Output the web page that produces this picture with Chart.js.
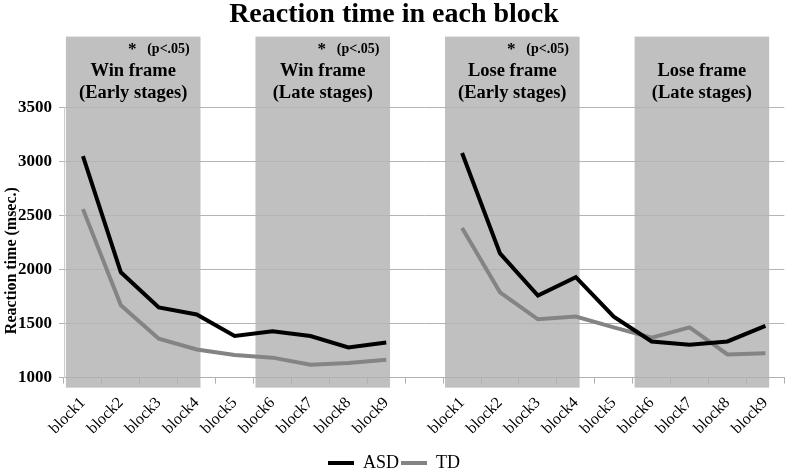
<!DOCTYPE html>
<html>
<head>
<meta charset="utf-8">
<script src="https://cdn.jsdelivr.net/npm/chart.js@4.4.1/dist/chart.umd.min.js"></script>
<style>
  body { margin: 0; background: #fff; }
  #caja { width: 789px; height: 471px; }
</style>
</head>
<body>
<div id="caja"><canvas id="grafica"></canvas></div>
<script>
// Datos
const bloques = ["block1", "block2", "block3", "block4", "block5", "block6", "block7", "block8", "block9"];
const etiquetas = [...bloques, "", ...bloques];

const asdWin = [3050, 1975, 1650, 1585, 1385, 1430, 1385, 1280, 1325];
const asdLose = [3080, 2150, 1760, 1930, 1565, 1335, 1305, 1335, 1480];
const tdWin = [2560, 1670, 1360, 1260, 1210, 1185, 1120, 1135, 1165];
const tdLose = [2385, 1790, 1540, 1565, 1465, 1370, 1465, 1215, 1225];

const ticksY = [1000, 1500, 2000, 2500, 3000, 3500];

const tituloY = "Reaction time (msec.)";

// Paneles sombreados (indices de categoria)
const rangos = [[0, 3], [5, 8], [10, 13], [15, 18]];
const panelTitulo = ["Win frame", "Win frame", "Lose frame", "Lose frame"];
const panelSub = ["(Early stages)", "(Late stages)", "(Early stages)", "(Late stages)"];
const panelSignif = [true, true, true, false];

const serif = "'Liberation Serif', 'Times New Roman', serif";

const paneles = {
  id: "paneles",
  beforeDraw(chart) {
    const { ctx, chartArea, scales: { x } } = chart;
    const w = x.getPixelForValue(1) - x.getPixelForValue(0);
    const top = chartArea.top - 71;
    const bottom = chartArea.bottom + 10;
    ctx.save();
    ctx.fillStyle = "#c0c0c0";
    rangos.forEach(([a, b]) => {
      const left = x.getPixelForValue(a) - 0.45 * w;
      const right = x.getPixelForValue(b) + 0.1 * w;
      ctx.fillRect(left, top, right - left, bottom - top);
    });
    ctx.restore();
  },
  afterDraw(chart) {
    const { ctx, chartArea, scales: { x } } = chart;
    const w = x.getPixelForValue(1) - x.getPixelForValue(0);
    ctx.save();
    ctx.fillStyle = "#000";
    ctx.textBaseline = "middle";
    rangos.forEach(([a, b], i) => {
      const left = x.getPixelForValue(a) - 0.45 * w;
      const right = x.getPixelForValue(b) + 0.1 * w;
      const cx = (left + right) / 2;
      ctx.textAlign = "center";
      ctx.font = "bold 18.5px " + serif;
      ctx.fillText(panelTitulo[i], cx, chartArea.top - 36);
      ctx.fillText(panelSub[i], cx, chartArea.top - 14);
      if (panelSignif[i]) {
        ctx.font = "bold 17px " + serif;
        ctx.fillText("*", cx - 1, chartArea.top - 58);
        ctx.textAlign = "left";
        ctx.font = "bold 14px " + serif;
        ctx.fillText("(p<.05)", cx + 14, chartArea.top - 58);
      }
    });

    // titulo del eje Y
    ctx.translate(12, chartArea.bottom - 117);
    ctx.rotate(-Math.PI / 2);
    ctx.textAlign = "center";
    ctx.font = "bold 16px " + serif;
    ctx.fillText(tituloY, 0, 0);
    ctx.restore();
  }
};

const ctx = document.getElementById("grafica");

new Chart(ctx, {
  type: "line",
  data: {
    labels: etiquetas,
    datasets: [
      {
        label: "ASD",
        data: [...asdWin, null, ...asdLose],
        borderColor: "#000000",
        backgroundColor: "#000000",
        borderWidth: 4,
        pointRadius: 0,
        pointStyle: "line",
        tension: 0,
        spanGaps: false
      },
      {
        label: "TD",
        data: [...tdWin, null, ...tdLose],
        borderColor: "#848484",
        backgroundColor: "#848484",
        borderWidth: 4,
        pointRadius: 0,
        pointStyle: "line",
        tension: 0,
        spanGaps: false
      }
    ]
  },
  options: {
    responsive: true,
    maintainAspectRatio: false,
    animation: false,
    layout: { padding: { left: 0, right: 1, top: 0, bottom: -11 } },
    plugins: {
      title: {
        display: true,
        text: "Reaction time in each block",
        color: "#000",
        font: { family: serif, size: 28, weight: "bold" },
        padding: { top: -2, bottom: 76 }
      },
      legend: {
        position: "bottom",
        labels: {
          color: "#000",
          font: { family: serif, size: 18 },
          usePointStyle: true,
          pointStyleWidth: 26,
          padding: 2
        }
      },
      tooltip: { enabled: false }
    },
    scales: {
      x: {
        offset: true,
        afterFit: (scale) => {
          scale.height += 4;
        },
        grid: {
          offset: true,
          drawOnChartArea: false,
          drawTicks: true,
          tickLength: 6,
          color: "#b0b0b0"
        },
        border: { color: "#b0b0b0" },
        ticks: {
          autoSkip: false,
          minRotation: 45,
          maxRotation: 45,
          color: "#000",
          font: { family: serif, size: 16 },
          padding: 10
        }
      },
      y: {
        min: 1000,
        max: 3500,
        afterBuildTicks: (scale) => {
          scale.ticks = ticksY.map(v => ({ value: v }));
        },
        afterFit: (scale) => {
          scale.width = 64;
        },
        grid: { color: "#b4b4b4", tickLength: 5 },
        border: { color: "#cccccc" },
        ticks: {
          color: "#000",
          font: { family: serif, size: 17, weight: "bold" },
          padding: 7,
          callback: (v) => String(v)
        }
      }
    }
  },
  plugins: [paneles]
});
</script>
</body>
</html>
